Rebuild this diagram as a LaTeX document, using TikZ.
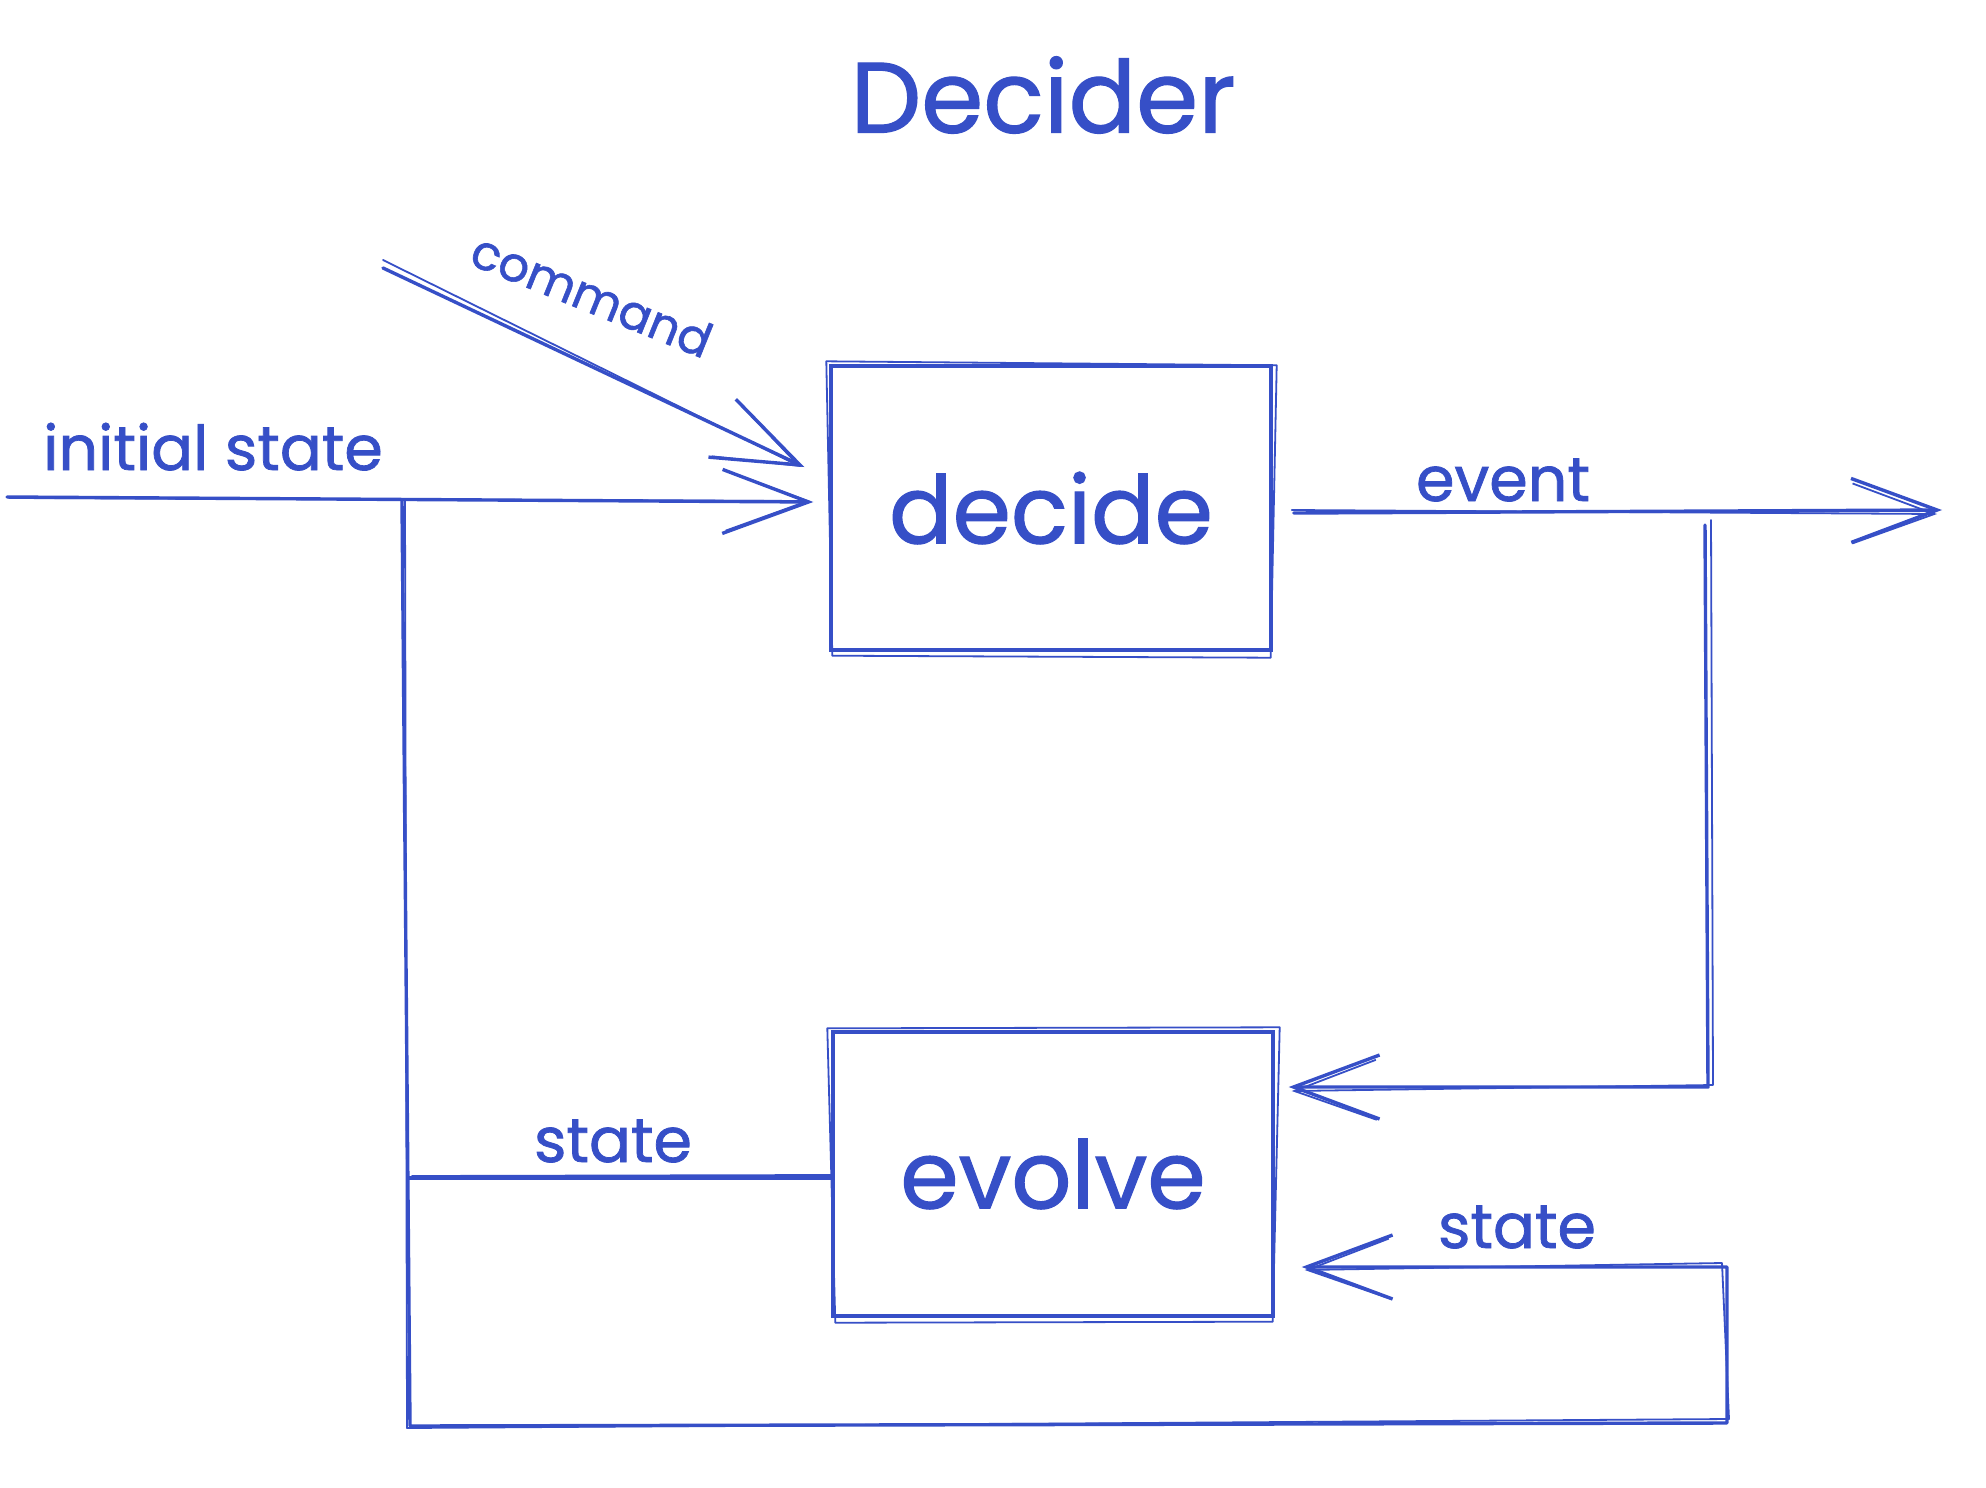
\documentclass[tikz,border=0pt]{standalone}
\usepackage{fontspec}
\setmainfont{Poppins}[FakeBold=1.2]
\usetikzlibrary{arrows.meta,calc}
\definecolor{xblue}{RGB}{54,79,199}
\begin{document}
\begin{tikzpicture}[x=0.5pt,y=-0.5pt,
  ln/.style={draw=xblue,line width=1.7pt,line cap=round,line join=round},
  ln2/.style={draw=xblue,line width=0.9pt,line cap=round,line join=round},
  arr/.style={-{Straight Barb[length=43pt,width=32pt,line width=1.7pt]}},
  arr2/.style={-{Straight Barb[length=41pt,width=30pt,line width=0.9pt]}},
  box/.style={draw=xblue,line width=1.7pt,minimum width=220pt,minimum height=142pt,inner sep=0pt,text=xblue,font=\fontsize{47}{56}\selectfont},
  lbl/.style={text=xblue,font=\fontsize{31}{38}\selectfont,inner sep=0pt,anchor=base}
]
\useasboundingbox (0,0) rectangle (1986,1488);
\fill[white] (0,0) rectangle (1986,1488);

% title
\node[text=xblue,font=\fontsize{50}{58}\selectfont,inner sep=0pt] (title) at (1043,95) {Decider};

% boxes
\node[box] (decide) at (1051,508) {decide};
\node[box] (evolve) at (1053,1174) {evolve};
\draw[ln2] ($(decide.north west)+(-3,-3)$) -- ($(decide.north east)+(4,1)$) -- ($(decide.south east)+(-2,6)$) -- ($(decide.south west)+(3,4)$) -- cycle;
\draw[ln2] ($(evolve.north west)+(-4,-2)$) -- ($(evolve.north east)+(5,-3)$) -- ($(evolve.south east)+(-2,4)$) -- ($(evolve.south west)+(4,5)$) -- cycle;

% coordinates
\coordinate (isStart) at (7,497);
\coordinate (isTip) at ($(decide.west)+(-16,-6)$);
\coordinate (cmdStart) at (383,268);
\coordinate (cmdTip) at ($(decide.west)+(-25,-41)$);
\coordinate (evStart) at ($(decide.east)+(21,5)$);
\coordinate (evTip) at (1942,510);
\coordinate (rA) at (1705,525);
\coordinate (rB) at (1708,1087);
\coordinate (rTip) at ($(evolve.east)+(14,-87)$);
\coordinate (lA) at (402,501);
\coordinate (lB) at (410,1426);
\coordinate (lC) at (1727,1423);
\coordinate (lD) at (1727,1267);
\coordinate (stTip) at ($(evolve.east)+(27,93)$);
\coordinate (sL) at (408,1178);

% connectors (main strokes)
\draw[ln,arr] (isStart) -- (isTip);
\draw[ln,arr] (cmdStart) -- (cmdTip);
\draw[ln,arr] (evStart) -- (evTip);
\draw[ln,arr] (rA) -- (rB) -- (rTip);
\draw[ln,arr] (lA) -- (lB) -- (lC) -- (lD) -- (stTip);
\draw[ln] (evolve.west |- sL) -- (sL);

% connectors (sketch second strokes)
\draw[ln2,arr2] ($(isStart)+(2,1)$) -- ($(isTip)+(-3,-1)$);
\draw[ln2,arr2] ($(cmdStart)+(0,-8)$) -- ($(cmdTip)+(-3,0)$);
\draw[ln2,arr2] ($(evStart)+(-2,-3)$) -- ($(evTip)+(-5,4)$);
\draw[ln2,arr2] ($(rA)+(6,-5)$) -- ($(rB)+(5,-2)$) -- ($(rTip)+(3,4)$);
\draw[ln2,arr2] ($(lA)+(3,0)$) -- ($(lB)+(-3,2)$) -- ($(lC)+(2,-4)$) -- ($(lD)+(-5,-4)$) -- ($(stTip)+(3,3)$);
\draw[ln2] ($(evolve.west |- sL)+(0,-3)$) -- ($(sL)+(4,-2)$);

% labels
\node[lbl] (tInit) at (213,470) {initial state};
\node[lbl] (tEvent) at (1503,501) {event};
\node[lbl] (tStateL) at (613,1162) {state};
\node[lbl] (tStateR) at (1517,1248) {state};
\node[text=xblue,font=\fontsize{24}{30}\selectfont,inner sep=0pt,rotate=-22] (tCmd) at (592,295) {command};
\end{tikzpicture}
\end{document}
